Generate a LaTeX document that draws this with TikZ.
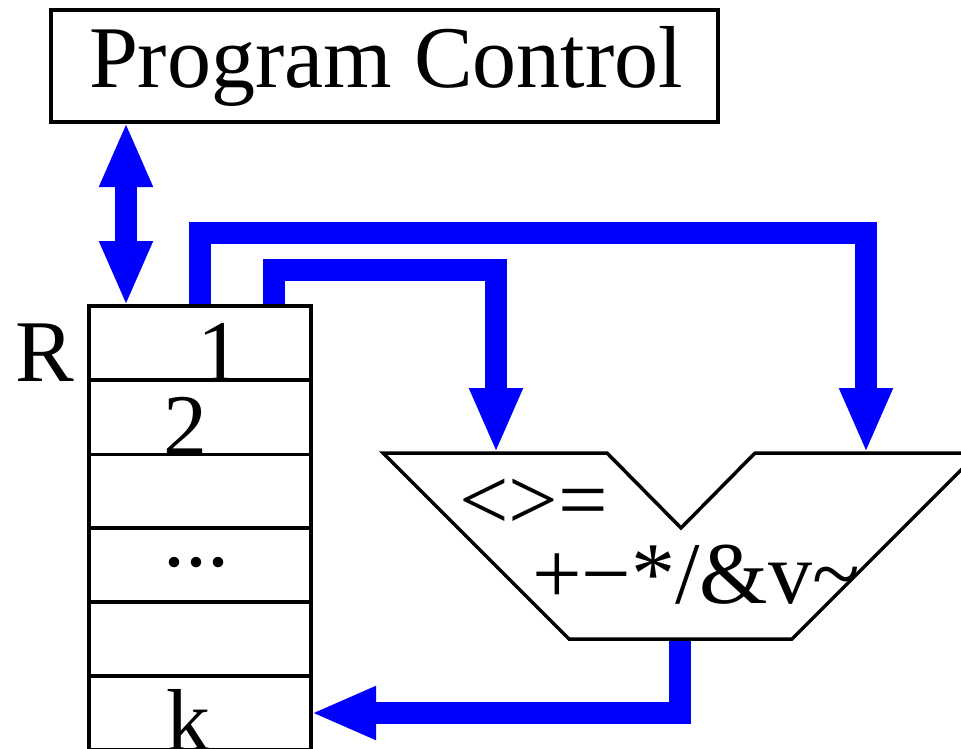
\documentclass[tikz,border=0pt]{standalone}
\usepackage{fontspec}
\setmainfont{Liberation Serif}
\usetikzlibrary{arrows.meta,calc,backgrounds}
\definecolor{busblue}{RGB}{0,0,255}
\begin{document}
\begin{tikzpicture}[x=1pt,y=-1pt,
  box/.style={draw,line width=3.5pt,inner sep=0pt,outer sep=0pt,rectangle},
  cell/.style={box,minimum width=222pt,minimum height=74pt},
  lbl/.style={inner sep=0pt,outer sep=0pt,font=\fontsize{88}{100}\selectfont},
  bus/.style={draw=busblue,line width=22pt,line join=miter},
  tipend/.style={-{Triangle[length=65pt,width=49pt]}},
  tipboth/.style={{Triangle[length=65pt,width=49pt]}-{Triangle[length=65pt,width=49pt]}},
]
\useasboundingbox (0,0) rectangle (961,749);
\clip (0,0) rectangle (961,749);

% Program control
\node[box,lbl,minimum width=667pt,minimum height=112pt] (pc) at (384.5,66) {\hspace*{3pt}Program Control};

% register file
\node[cell] (r1) at (200,343) {};
\node[cell] (r2) at (200,417.5) {};
\node[cell] (r3) at (200,491.5) {};
\node[cell] (r4) at (200,565) {};
\node[cell] (r5) at (200,639) {};
\node[cell] (r6) at (200,713) {};
\node[lbl,anchor=base] (lR) at (45,381) {R};
\node[lbl,anchor=base] (l1) at (219,381) {1};
\node[lbl,anchor=base] (l2) at (185,455) {2};
\node[lbl,anchor=base] (l3) at (196,566) {...};
\node[lbl,anchor=base] (lk) at (188,750) {k};

% ALU
\coordinate (in1) at (496,453);
\coordinate (in2) at (866,453);
\coordinate (aluout) at (680,639);
\draw[line width=3.5pt,line join=miter] (383,453) -- (607,453) -- (681,528) -- (755,453) -- (978,453) -- (792,639) -- (569,639) -- cycle;
\node[lbl,anchor=base west] (cmp) at (459,529) {<>=};
\node[lbl,anchor=base west] (ops) at (532,603) {+−*/\&v\textasciitilde};

% buses
\begin{scope}[on background layer]
\draw[bus,tipboth] ([xshift=37pt]r1.north west |- pc.south) -- ([xshift=37pt]r1.north west);
\draw[bus,tipend] ([xshift=111pt]r1.north west) -- ++(0,-73) -| (in2);
\draw[bus,tipend] ([xshift=185pt]r1.north west) -- ++(0,-36) -| (in1);
\draw[bus,tipend] (aluout) |- (r6.east);
\end{scope}
\end{tikzpicture}
\end{document}
